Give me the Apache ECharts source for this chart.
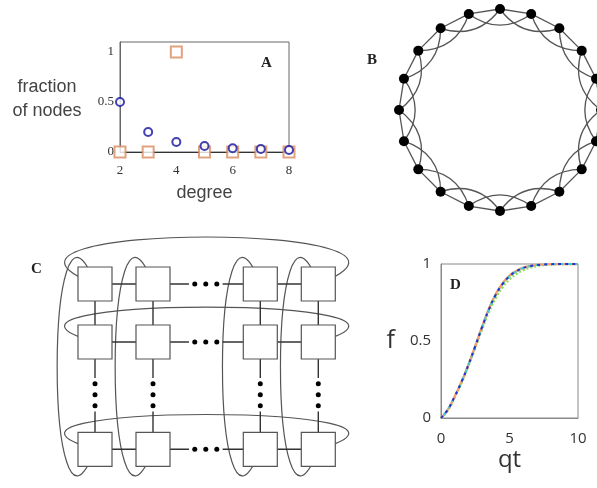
<!DOCTYPE html>
<html>
<head>
<meta charset="utf-8">
<script src="https://cdn.jsdelivr.net/npm/echarts@6/dist/echarts.min.js"></script>
<style>
  html, body { margin: 0; padding: 0; background: #fff; }
  #chart { width: 597px; height: 488px; }
</style>
</head>
<body>
<div id="chart"></div>
<script>
// A: degree distribution
const degrees = [2, 3, 4, 5, 6, 7, 8];
const fracRandom = [0.5, 0.2, 0.1, 0.06, 0.037, 0.03, 0.02];
const fracLattice = [0, 0, 1, 0, 0, 0, 0];

// B: ring lattice, each node linked to its 1st and 2nd neighbours
const ringSize = 20;
const ringReach = [1, 2];

// C: torus grid (column / row index values, gap = the dotted part)
const colPos = [0, 1, 2.85, 3.85];
const rowPos = [0, 1, 2.85];
const gapDots = [1.72, 1.91, 2.1];
const gapEnds = [1.62, 2.2];

// D: f vs qt
const qt = [0, 0.5, 1, 1.5, 2, 2.5, 3, 3.5, 4, 4.5, 5, 5.5, 6, 6.5, 7, 7.5, 8, 9, 10];
const fBlue = [0, 0.055, 0.14, 0.235, 0.345, 0.465, 0.59, 0.705, 0.8, 0.87, 0.92, 0.952, 0.974, 0.986, 0.993, 0.997, 0.999, 1, 1];
const fOrange = [0, 0.055, 0.14, 0.235, 0.345, 0.467, 0.593, 0.71, 0.805, 0.875, 0.924, 0.955, 0.976, 0.987, 0.994, 0.997, 0.999, 1, 1];
const fGreen = [0, 0.05, 0.135, 0.23, 0.34, 0.458, 0.578, 0.69, 0.78, 0.85, 0.9, 0.936, 0.96, 0.976, 0.987, 0.993, 0.997, 1, 1];

const chart = echarts.init(document.getElementById('chart'));

// ring nodes and edges
const ringNodes = [];
const ringEdges = [];
for (let i = 0; i < ringSize; i++) {
  ringNodes.push({ name: 'n' + i, value: [1, i * 360 / ringSize] });
}
for (let i = 0; i < ringSize; i++) {
  ringReach.forEach(k => {
    ringEdges.push({
      source: 'n' + i,
      target: 'n' + ((i + k) % ringSize),
      lineStyle: { curveness: k === 1 ? 0 : -0.36 }
    });
  });
}

// grid pieces for C
const squares = [];
rowPos.forEach(r => colPos.forEach(c => squares.push([c, r])));
const dots = [];
rowPos.forEach(r => gapDots.forEach(g => dots.push([g, r])));
colPos.forEach(c => gapDots.forEach(g => dots.push([c, g])));

const links = [];
function addLinks(pos, fixed, horiz) {
  for (let i = 0; i < pos.length - 1; i++) {
    const a = pos[i], b = pos[i + 1];
    const parts = (b - a) > 1.2 ? [[a, gapEnds[0]], [gapEnds[1], b]] : [[a, b]];
    parts.forEach(p => {
      links.push(horiz ? [p[0], fixed, p[1], fixed] : [fixed, p[0], fixed, p[1]]);
    });
  }
}
rowPos.forEach(r => addLinks(colPos, r, true));
colPos.forEach(c => addLinks(rowPos, c, false));

// wrap-around loops: [x1, y1, x2, y2, dir]  dir 0 = row, 1 = column
const loops = [];
rowPos.forEach(r => loops.push([colPos[0], r, colPos[colPos.length - 1], r, 0]));
colPos.forEach(c => loops.push([c, rowPos[0], c, rowPos[rowPos.length - 1], 1]));

const serif = 'Liberation Serif';
const sans = 'Liberation Sans';

chart.setOption({
  backgroundColor: '#fff',
  animation: false,
  grid: [
    { left: 120, top: 42, width: 169, height: 110, show: true, borderColor: '#666', borderWidth: 1 },
    { left: 37, top: 226, width: 348, height: 261 },
    { left: 441, top: 264, width: 137, height: 154, show: true, borderColor: '#888', borderWidth: 1 }
  ],
  polar: { center: [500, 110], radius: 101 },
  radiusAxis: { polarIndex: 0, min: 0, max: 1, show: false },
  angleAxis: { polarIndex: 0, min: 0, max: 360, startAngle: 90, show: false },
  xAxis: [
    {
      gridIndex: 0, type: 'value', min: 2, max: 8, interval: 2,
      axisLine: { lineStyle: { color: '#333' } },
      axisTick: { show: false }, splitLine: { show: false },
      axisLabel: { color: '#333', fontFamily: serif, fontSize: 13, margin: 12 },
      name: 'degree', nameLocation: 'middle', nameGap: 32,
      nameTextStyle: { fontFamily: sans, fontSize: 18, color: '#444' }
    },
    { gridIndex: 1, type: 'value', min: -1, max: 5, show: false },
    {
      gridIndex: 2, type: 'value', min: 0, max: 10, interval: 5,
      axisLine: { lineStyle: { color: '#888' } },
      axisTick: { show: false }, splitLine: { show: false },
      axisLabel: { color: '#333', fontFamily: 'Open Sans', fontSize: 15, margin: 13 },
      name: 'qt', nameLocation: 'middle', nameGap: 30,
      nameTextStyle: { fontFamily: 'Open Sans', fontSize: 24, color: '#333' }
    }
  ],
  yAxis: [
    {
      gridIndex: 0, type: 'value', min: 0, max: 1.1, interval: 0.5,
      axisLine: { show: true, lineStyle: { color: '#666' } },
      axisTick: { show: false }, splitLine: { show: false },
      axisLabel: { color: '#333', fontFamily: serif, fontSize: 13, margin: 6, showMaxLabel: false }
    },
    { gridIndex: 1, type: 'value', min: -1, max: 3.5, inverse: true, show: false },
    {
      gridIndex: 2, type: 'value', min: 0, max: 1, interval: 0.5,
      axisLine: { show: true, lineStyle: { color: '#888' } },
      axisTick: { show: false }, splitLine: { show: false },
      axisLabel: { color: '#333', fontFamily: 'Open Sans', fontSize: 15, margin: 10 },
      name: 'f', nameLocation: 'middle', nameGap: 46, nameRotate: 0,
      nameTextStyle: { fontFamily: 'Open Sans', fontSize: 25, color: '#333' }
    }
  ],
  graphic: [
    { type: 'text', x: 47, y: 75, style: { text: 'fraction\nof nodes', font: '18px Liberation Sans', fill: '#444', align: 'center', lineHeight: 24 } },
    { type: 'text', x: 261, y: 56, style: { text: 'A', font: 'bold 15px Liberation Serif', fill: '#222' } },
    { type: 'text', x: 367, y: 53, style: { text: 'B', font: 'bold 15px Liberation Serif', fill: '#222' } },
    { type: 'text', x: 31, y: 262, style: { text: 'C', font: 'bold 15px Liberation Serif', fill: '#222' } },
    { type: 'text', x: 450, y: 278, style: { text: 'D', font: 'bold 15px Liberation Serif', fill: '#222' } }
  ],
  series: [
    // A
    {
      type: 'scatter', xAxisIndex: 0, yAxisIndex: 0,
      symbol: 'emptyRect', symbolSize: 11,
      itemStyle: { color: '#d98b5f', borderWidth: 1.8 },
      data: degrees.map((d, i) => [d, fracLattice[i]])
    },
    {
      type: 'scatter', xAxisIndex: 0, yAxisIndex: 0,
      symbol: 'emptyCircle', symbolSize: 8,
      itemStyle: { color: '#12129e', borderWidth: 2.5 },
      data: degrees.map((d, i) => [d, fracRandom[i]])
    },
    // B
    {
      type: 'graph', coordinateSystem: 'polar', polarIndex: 0, layout: 'none',
      symbol: 'circle', symbolSize: 10,
      itemStyle: { color: '#000' },
      lineStyle: { color: '#555', width: 1.3, opacity: 1 },
      label: { show: false },
      data: ringNodes, links: ringEdges
    },
    // C loops
    {
      type: 'custom', xAxisIndex: 1, yAxisIndex: 1, z: 1,
      encode: { x: [0, 2], y: [1, 3] },
      data: loops,
      renderItem(params, api) {
        const x1 = api.value(0), y1 = api.value(1), x2 = api.value(2), y2 = api.value(3);
        let c1, c2;
        if (api.value(4) === 0) {
          const b = params.dataIndex === 0 ? 1.08 : 0.8;
          c1 = [x1 - 2.8, y1 - b]; c2 = [x2 + 2.8, y2 - b];
        } else {
          c1 = [x1 - 0.87, y1 - 2.35]; c2 = [x2 - 0.87, y2 + 2.35];
        }
        const p1 = api.coord([x1, y1]), p2 = api.coord([x2, y2]);
        const q1 = api.coord(c1), q2 = api.coord(c2);
        return {
          type: 'bezierCurve',
          shape: { x1: p1[0], y1: p1[1], x2: p2[0], y2: p2[1], cpx1: q1[0], cpy1: q1[1], cpx2: q2[0], cpy2: q2[1] },
          style: { fill: null, stroke: '#555', lineWidth: 1.2 }
        };
      }
    },
    // C links
    {
      type: 'custom', xAxisIndex: 1, yAxisIndex: 1, z: 2,
      encode: { x: [0, 2], y: [1, 3] },
      data: links,
      renderItem(params, api) {
        const p1 = api.coord([api.value(0), api.value(1)]);
        const p2 = api.coord([api.value(2), api.value(3)]);
        return {
          type: 'line',
          shape: { x1: p1[0], y1: p1[1], x2: p2[0], y2: p2[1] },
          style: { stroke: '#333', lineWidth: 1.4 }
        };
      }
    },
    {
      type: 'scatter', xAxisIndex: 1, yAxisIndex: 1, z: 3,
      symbol: 'rect', symbolSize: 34,
      itemStyle: { color: '#fff', borderColor: '#555', borderWidth: 1.2, opacity: 1 },
      data: squares
    },
    {
      type: 'scatter', xAxisIndex: 1, yAxisIndex: 1, z: 3,
      symbol: 'circle', symbolSize: 5,
      itemStyle: { color: '#000', opacity: 1 },
      data: dots
    },
    // D
    {
      type: 'line', xAxisIndex: 2, yAxisIndex: 2, smooth: true, showSymbol: false,
      lineStyle: { color: '#8fe060', width: 2.6, type: [2, 2] },
      data: qt.map((x, i) => [x, fGreen[i]])
    },
    {
      type: 'line', xAxisIndex: 2, yAxisIndex: 2, smooth: true, showSymbol: false,
      lineStyle: { color: '#f0a070', width: 2.4 },
      data: qt.map((x, i) => [x, fOrange[i]])
    },
    {
      type: 'line', xAxisIndex: 2, yAxisIndex: 2, smooth: true, showSymbol: false,
      lineStyle: { color: '#40c8d8', width: 2, type: [3, 5], dashOffset: 4 },
      data: qt.map((x, i) => [x, fBlue[i]])
    },
    {
      type: 'line', xAxisIndex: 2, yAxisIndex: 2, smooth: true, showSymbol: false,
      lineStyle: { color: '#2233cc', width: 2, type: [3, 4] },
      data: qt.map((x, i) => [x, fBlue[i]])
    }
  ]
});
</script>
</body>
</html>
